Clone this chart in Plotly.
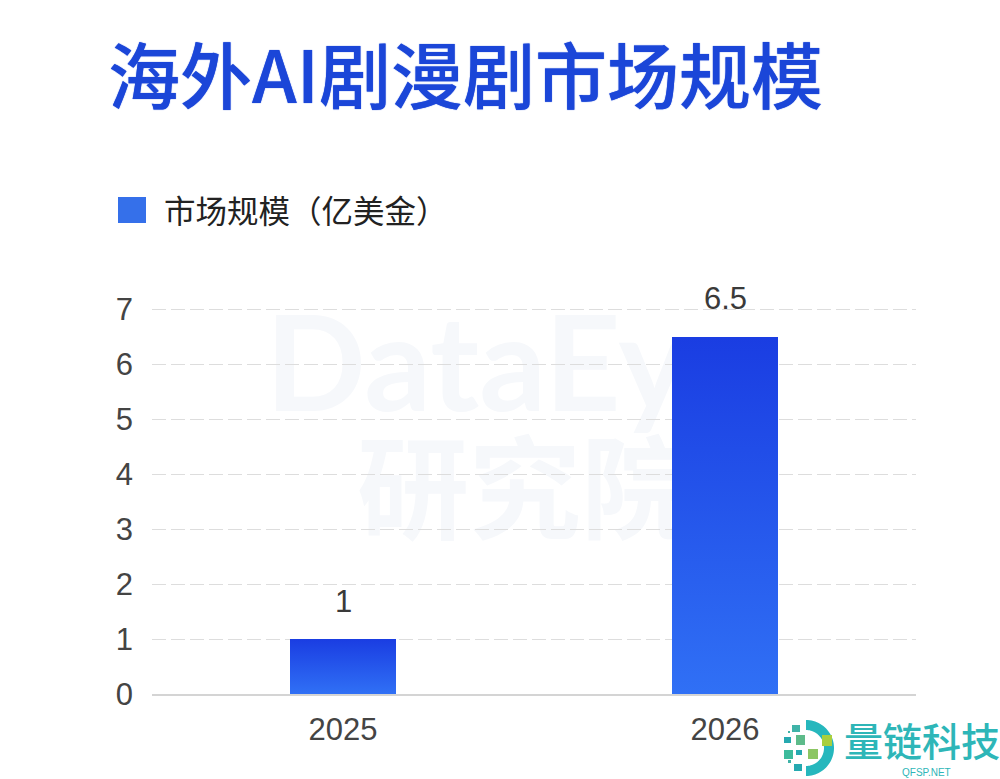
import numpy as np
import plotly.graph_objects as go

CJK = "Noto Sans CJK SC"
DIGITS = "Liberation Sans"

title_text = "海外AI剧漫剧市场规模"
legend_text = "市场规模（亿美金）"
years = ["2025", "2026"]
market_size = [1, 6.5]
y_ticks = [0, 1, 2, 3, 4, 5, 6, 7]
y_max = 7.2  # a little headroom so the line at 7 is still drawn

# Plot box in page pixels, used to place the furniture around the axes
UNIT = 55
LEFT, RIGHT, BOTTOM = 152, 916, 694
TOP = BOTTOM - UNIT * y_max
W, H = 1000, 779


def px(x):
    return (x - LEFT) / (RIGHT - LEFT)


def py(y):
    return (BOTTOM - y) / (BOTTOM - TOP)


def rect(x0, y0, x1, y1, color, layer="above"):
    return dict(type="rect", xref="paper", yref="paper", layer=layer,
                x0=px(x0), x1=px(x1), y0=py(y0), y1=py(y1),
                fillcolor=color, line_width=0)


def ring(cx, cy, r0, r1, a0, a1):
    # Ring segment as a polyline; angles in degrees, clockwise from the top
    t = np.radians(np.linspace(a0, a1, 48))
    xs = np.r_[cx + r1 * np.sin(t), cx + r0 * np.sin(t[::-1])]
    ys = np.r_[cy - r1 * np.cos(t), cy - r0 * np.cos(t[::-1])]
    pts = [f"{px(a):.5f},{py(b):.5f}" for a, b in zip(xs, ys)]
    return "M" + " L".join(pts) + " Z"


def faint_text(text, x0, y0, x1, y1, size, family, weight):
    # Text attached to a shape so it can sit underneath the bars
    return dict(type="rect", xref="paper", yref="paper", layer="below",
                x0=px(x0), x1=px(x1), y0=py(y0), y1=py(y1),
                fillcolor="rgba(0,0,0,0)", line_width=0,
                label=dict(text=text, textposition="middle center",
                           font=dict(family=family, size=size, color="#f6f8fb", weight=weight)))


positions = list(range(len(years)))

fig = go.Figure(go.Bar(
    x=positions, y=market_size, width=0.275,
    marker=dict(color="#2a5cf0", line_width=0),
    showlegend=False, hoverinfo="y",
))

annotations = [
    dict(x=i, y=v, xref="x", yref="y", text=str(v), showarrow=False,
         yshift=38, yanchor="middle",
         font=dict(family=DIGITS, size=31, color="#3a3a3a"))
    for i, v in zip(positions, market_size)
]
annotations += [
    dict(x=px(162), y=py(209), xref="paper", yref="paper", text=legend_text,
         showarrow=False, xanchor="left", yanchor="middle",
         font=dict(family=CJK, size=31.5, color="#222222")),
    dict(x=px(842), y=py(739), xref="paper", yref="paper", text="量链科技",
         showarrow=False, xanchor="left", yanchor="middle",
         font=dict(family=CJK, size=39, color="#2eb6b8", weight=500)),
    dict(x=px(926), y=py(772), xref="paper", yref="paper", text="QFSP.NET",
         showarrow=False, xanchor="center", yanchor="middle",
         font=dict(family=DIGITS, size=10, color="#2eb6b8")),
]

shapes = [
    faint_text("DataEye", 262, 295, 760, 420, 132, "Lato", 700),
    faint_text("研究院", 350, 440, 700, 560, 112, CJK, 700),
    rect(118, 197, 146, 223, "#3570ea"),
    # Logo: ring with scattered squares
    dict(type="path", xref="paper", yref="paper", path=ring(806, 748, 18, 28, 0, 180),
         fillcolor="#26b7bd", line_width=0),
    rect(822, 735, 832, 746, "#a9cf3e"),
    rect(796, 735, 805, 745, "#5dbb8a"),
    rect(808, 749, 818, 759, "#8cc663"),
    rect(792, 725, 800, 732, "#3fb3a8"),
    rect(784, 737, 791, 743, "#26a9b0"),
    rect(784, 750, 793, 759, "#3dbb9c"),
    rect(796, 750, 802, 755, "#26a9b0"),
    rect(794, 764, 802, 771, "#26a9b0"),
    rect(788, 760, 791, 763, "#3fb3a8"),
    rect(788, 731, 790, 733, "#3fb3a8"),
]

fig.update_layout(
    width=W, height=H,
    margin=dict(l=LEFT, r=W - RIGHT, t=TOP, b=H - BOTTOM, pad=0),
    paper_bgcolor="white", plot_bgcolor="rgba(0,0,0,0)",
    font=dict(family=CJK),
    title=dict(text=title_text, x=108 / W, xanchor="left", y=1 - 77.5 / H, yanchor="middle",
               font=dict(family=CJK, size=72, color="#1b46d8", weight=500,
                         shadow="0 0 1px #1b46d8")),
    annotations=annotations, shapes=shapes,
    bargap=0,
)
fig.update_xaxes(
    range=[-0.5, 1.5], tickvals=positions, ticktext=years,
    showgrid=False, zeroline=False, ticks="", showline=True,
    linecolor="#d4d4d4", linewidth=2,
    tickfont=dict(family=DIGITS, size=31, color="#444444"), ticklabelstandoff=7,
)
fig.update_yaxes(
    range=[0, y_max], tickvals=y_ticks, showline=False, zeroline=False,
    gridcolor="#dddddd", gridwidth=1, griddash="14px,5px",
    tickfont=dict(family=DIGITS, size=31, color="#444444"), ticklabelstandoff=18,
)

# Vertical gradient fill for the bars
gradient_js = """
var gd = document.getElementById('{plot_id}');
function paintBars() {
  var svg = gd.querySelector('.main-svg');
  var ns = 'http://www.w3.org/2000/svg';
  if (!document.getElementById('barFill')) {
    var defs = document.createElementNS(ns, 'defs');
    var g = document.createElementNS(ns, 'linearGradient');
    g.id = 'barFill';
    g.setAttribute('x1', '0'); g.setAttribute('y1', '0');
    g.setAttribute('x2', '0'); g.setAttribute('y2', '1');
    [['0', '#1a3de2'], ['1', '#3070f5']].forEach(function (s) {
      var st = document.createElementNS(ns, 'stop');
      st.setAttribute('offset', s[0]);
      st.setAttribute('stop-color', s[1]);
      g.appendChild(st);
    });
    defs.appendChild(g);
    svg.insertBefore(defs, svg.firstChild);
  }
  gd.querySelectorAll('.bars .point path').forEach(function (p) {
    p.style.fill = 'url(#barFill)';
  });
}
paintBars();
gd.on('plotly_afterplot', paintBars);
"""

fig.write_html("out.html", post_script=gradient_js)
